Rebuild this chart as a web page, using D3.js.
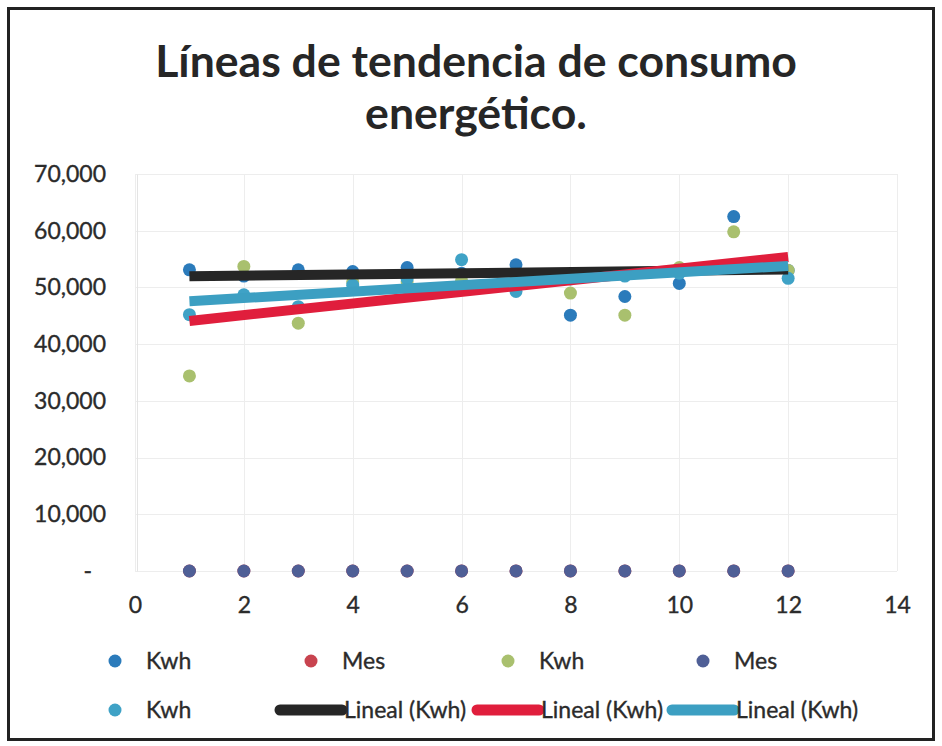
<!DOCTYPE html>
<html>
<head>
<meta charset="utf-8">
<script src="https://cdn.jsdelivr.net/npm/d3@7"></script>
<style>
  html, body { margin: 0; padding: 0; background: #fff; }
  svg { display: block; }
  text { font-family: Lato, "Open Sans", "DejaVu Sans", sans-serif; }
</style>
</head>
<body>
<svg id="chart" width="942" height="746"></svg>
<script>
// Monthly consumption (kWh) for three series, months 1..12
const months = [1, 2, 3, 4, 5, 6, 7, 8, 9, 10, 11, 12];
const kwhSeriesA = [53100, 52000, 53100, 52800, 53500, 52500, 54000, 45100, 48400, 50700, 62500, 53000];
const kwhSeriesB = [34400, 53700, 43700, 51000, 51000, 51200, 51300, 49000, 45100, 53500, 59800, 53000];
const kwhSeriesC = [45200, 48700, 46600, 50400, 51500, 54900, 49300, 51500, 52000, 52500, 54000, 51600];
// "Mes" columns plotted as values too (month numbers, negligible on this scale)
const mesSeriesA = [1, 2, 3, 4, 5, 6, 7, 8, 9, 10, 11, 12];
const mesSeriesB = [1, 2, 3, 4, 5, 6, 7, 8, 9, 10, 11, 12];

const xTicks = [0, 2, 4, 6, 8, 10, 12, 14];
const yTicks = [0, 10000, 20000, 30000, 40000, 50000, 60000, 70000];
const titleLines = ["Líneas de tendencia de consumo", "energético."];

const colors = {
  kwhA: "#2b7bbb", mesA: "#c8434f", kwhB: "#a9c06e", mesB: "#4f5f96", kwhC: "#3fa2c6",
  trendA: "#262626", trendB: "#e01e3c", trendC: "#3c9fc2"
};

const scatterSeries = [
  { name: "Kwh", values: kwhSeriesA, color: colors.kwhA },
  { name: "Mes", values: mesSeriesA, color: colors.mesA },
  { name: "Kwh", values: kwhSeriesB, color: colors.kwhB },
  { name: "Mes", values: mesSeriesB, color: colors.mesB },
  { name: "Kwh", values: kwhSeriesC, color: colors.kwhC }
];
const trendSeries = [
  { name: "Lineal (Kwh)", values: kwhSeriesA, color: colors.trendA },
  { name: "Lineal (Kwh)", values: kwhSeriesB, color: colors.trendB },
  { name: "Lineal (Kwh)", values: kwhSeriesC, color: colors.trendC }
];

// Ordinary least squares fit used for the linear trend lines
function linearFit(xs, ys) {
  const n = xs.length;
  const mx = d3.mean(xs), my = d3.mean(ys);
  let sxy = 0, sxx = 0;
  for (let i = 0; i < n; i++) { sxy += (xs[i] - mx) * (ys[i] - my); sxx += (xs[i] - mx) ** 2; }
  const slope = sxy / sxx;
  return x => my + slope * (x - mx);
}

const svg = d3.select("#chart");
const textColor = "#2b2b2b";

// outer frame
svg.append("rect").attr("x", 8.5).attr("y", 8.5).attr("width", 925).attr("height", 731)
  .attr("fill", "#fff").attr("stroke", "#222").attr("stroke-width", 3);

// title, fitted to its width
const title = svg.append("g");
titleLines.forEach((t, i) => {
  title.append("text").attr("x", 476).attr("y", i === 0 ? 77 : 129)
    .attr("text-anchor", "middle").attr("font-weight", 700).attr("font-size", 40)
    .attr("fill", "#262626").text(t);
});
{
  const w = title.select("text").node().getComputedTextLength();
  title.selectAll("text").attr("font-size", 40 * 642 / w);
}

const plot = { left: 135, right: 897, top: 174, bottom: 571 };
const x = d3.scaleLinear().domain([0, 14]).range([plot.left, plot.right]);
const y = d3.scaleLinear().domain([0, 70000]).range([plot.bottom, plot.top]);

// gridlines
const grid = svg.append("g").attr("stroke", "#ededed").attr("stroke-width", 1);
yTicks.forEach(v => grid.append("line").attr("x1", plot.left).attr("x2", plot.right)
  .attr("y1", Math.round(y(v)) + 0.5).attr("y2", Math.round(y(v)) + 0.5));
xTicks.forEach(v => grid.append("line").attr("y1", plot.top).attr("y2", plot.bottom)
  .attr("x1", Math.round(x(v)) + 0.5).attr("x2", Math.round(x(v)) + 0.5));

// axes
const fmt = d3.format(",");
const yAxis = svg.append("g").attr("transform", `translate(${plot.left + 2},0)`)
  .call(d3.axisLeft(y).tickValues(yTicks).tickSize(0).tickPadding(31)
    .tickFormat(v => v === 0 ? "-" : fmt(v)));
yAxis.select(".domain").attr("stroke", "#e4e4e4");
yAxis.selectAll("text").attr("font-size", 23).attr("fill", textColor)
  .attr("stroke", textColor).attr("stroke-width", 0.35)
  .attr("font-family", "Lato, sans-serif")
  .attr("dx", d => d === 0 ? -14 : 0);

const xAxis = svg.append("g").attr("transform", `translate(0,${plot.bottom})`)
  .call(d3.axisBottom(x).tickValues(xTicks).tickSize(0).tickPadding(26));
xAxis.select(".domain").remove();
xAxis.selectAll("text").attr("font-size", 23).attr("fill", textColor)
  .attr("stroke", textColor).attr("stroke-width", 0.35)
  .attr("font-family", "Lato, sans-serif");

// scatter points
const R = 6.5;
scatterSeries.forEach(s => {
  svg.append("g").selectAll("circle").data(months.map((m, i) => [m, s.values[i]]))
    .join("circle").attr("cx", d => x(d[0])).attr("cy", d => y(d[1]))
    .attr("r", R).attr("fill", s.color);
});

// linear trend lines over the data range
trendSeries.forEach(s => {
  const f = linearFit(months, s.values);
  const x0 = d3.min(months), x1 = d3.max(months);
  svg.append("line").attr("x1", x(x0)).attr("y1", y(f(x0)))
    .attr("x2", x(x1)).attr("y2", y(f(x1)))
    .attr("stroke", s.color).attr("stroke-width", 10).attr("stroke-linecap", "butt");
});

// legend
const legendItems = [
  ...scatterSeries.map(s => ({ type: "marker", name: s.name, color: s.color })),
  ...trendSeries.map(s => ({ type: "line", name: s.name, color: s.color }))
];
const legendCols = [115, 311, 508, 703];
const legendRows = [661, 710];
const legend = svg.append("g");
legendItems.forEach((it, i) => {
  const cx = legendCols[i % 4], cy = legendRows[Math.floor(i / 4)];
  if (it.type === "marker") {
    legend.append("circle").attr("cx", cx).attr("cy", cy).attr("r", 6.5).attr("fill", it.color);
  } else {
    legend.append("line").attr("x1", cx - 31).attr("x2", cx + 31).attr("y1", cy).attr("y2", cy)
      .attr("stroke", it.color).attr("stroke-width", 11).attr("stroke-linecap", "round");
  }
  legend.append("text").attr("x", cx + (it.type === "marker" ? 31 : 33)).attr("y", cy)
    .attr("dy", "0.36em").attr("font-size", 23).attr("fill", textColor)
    .attr("stroke", textColor).attr("stroke-width", 0.35).text(it.name);
});
</script>
</body>
</html>
